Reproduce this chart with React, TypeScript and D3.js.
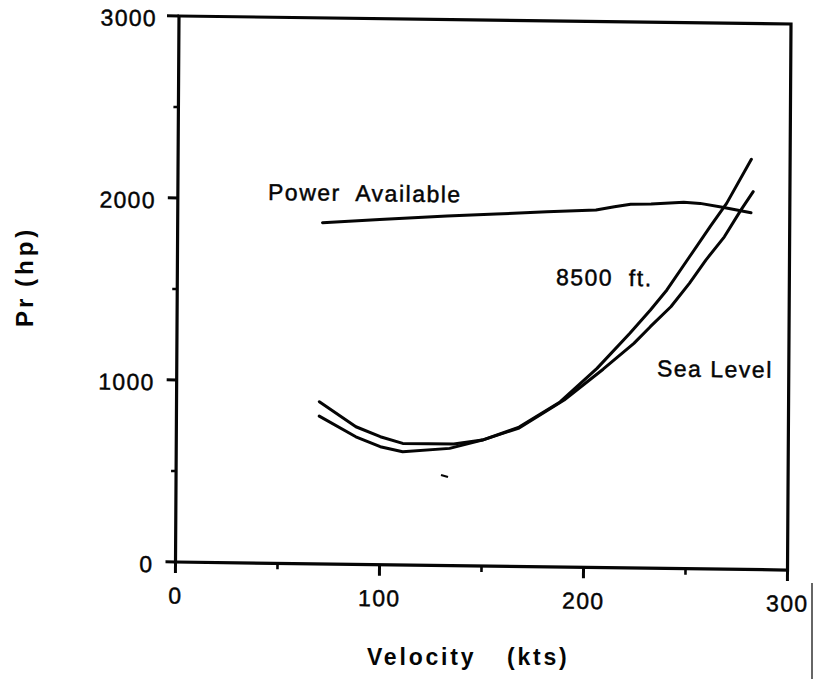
import React from "react";
import * as d3 from "d3";

// ---- Data ----
const velocityTicks = [0, 100, 200, 300];
const velocityMinorTicks = [50, 150, 250];
const powerTicks = [0, 1000, 2000, 3000];
const powerMinorTicks = [500, 1500, 2500];

// Power Available (kts, hp)
const availVelocity = [71, 99, 132, 156, 181, 205, 214, 222, 232, 248, 256, 267, 281];
const availPower = [1875, 1897, 1920, 1935, 1951, 1964, 1983, 1998, 2001, 2013, 2008, 1988, 1960];

// Power required, 8500 ft
const altVelocity = [70, 88, 100, 111, 136, 150, 168, 188, 206, 222, 232, 240, 251, 261, 269, 281];
const altPower = [891, 756, 703, 668, 668, 692, 766, 907, 1094, 1289, 1419, 1530, 1714, 1881, 2010, 2254];

// Power required, Sea Level
const slVelocity = [70, 88, 100, 111, 134, 150, 168, 190, 209, 224, 232, 242, 251, 259, 268, 276, 282];
const slPower = [812, 701, 648, 622, 644, 692, 761, 918, 1090, 1234, 1327, 1438, 1568, 1697, 1826, 1974, 2076];

// Annotation labels (anchored in data units)
const labels = [
  { text: "Power  Available", v: 44.2, p: 1996 },
  { text: "8500  ft.", v: 185.6, p: 1549 },
  { text: "Sea Level", v: 235.4, p: 1055 },
];

const W = 612;
const H = 546;
const FONT = "'Liberation Sans', Arial, Helvetica, sans-serif";
const INK = "#050505";

export default function App() {
  const x = d3.scaleLinear().domain([0, 300]).range([0, W]);
  const y = d3.scaleLinear().domain([0, 3000]).range([H, 0]);
  const line = d3
    .line<[number, number]>()
    .x((d) => x(d[0]))
    .y((d) => y(d[1]))
    .curve(d3.curveLinear);

  const zip = (a: number[], b: number[]) => a.map((v, i) => [v, b[i]] as [number, number]);
  const series = [zip(availVelocity, availPower), zip(altVelocity, altPower), zip(slVelocity, slPower)];

  const textStyle = { stroke: INK, strokeWidth: 0.45 } as React.CSSProperties;

  return (
    <svg
      width={815}
      height={679}
      style={{ position: "absolute", left: 0, top: 0, background: "#fff" }}
    >
      <rect x={0} y={0} width={815} height={679} fill="#fff" />
      {/* slight scan skew */}
      <g transform="matrix(1, 0.0131, -0.0064, 1, 179, 16)">
        {/* frame */}
        <rect x={0} y={0} width={W} height={H} fill="none" stroke={INK} strokeWidth={3.2} />
        {/* y ticks */}
        {powerTicks.map((t) => (
          <line key={"yt" + t} x1={t === 3000 ? -12 : -10} x2={0} y1={y(t)} y2={y(t)} stroke={INK} strokeWidth={3} />
        ))}
        {powerMinorTicks.map((t) => (
          <line key={"ym" + t} x1={-5} x2={0} y1={y(t)} y2={y(t)} stroke={INK} strokeWidth={2.6} />
        ))}
        {powerTicks.map((t) => (
          <text
            key={"yl" + t}
            x={-22}
            y={y(t) + 10.5}
            textAnchor="end"
            fontFamily={FONT}
            fontSize={23}
            letterSpacing={1.3}
            fill={INK}
            style={textStyle}
          >
            {t}
          </text>
        ))}
        {/* x ticks */}
        {velocityTicks.map((t) => (
          <line key={"xt" + t} x1={x(t)} x2={x(t)} y1={H} y2={H + 11} stroke={INK} strokeWidth={3} />
        ))}
        {velocityMinorTicks.map((t) => (
          <line key={"xm" + t} x1={x(t)} x2={x(t)} y1={H} y2={H + 6} stroke={INK} strokeWidth={2.6} />
        ))}
        {velocityTicks.map((t) => (
          <text
            key={"xl" + t}
            x={x(t)}
            y={H + 41.5}
            textAnchor="middle"
            fontFamily={FONT}
            fontSize={23}
            letterSpacing={1.3}
            fill={INK}
            style={textStyle}
          >
            {t}
          </text>
        ))}
        {/* curves */}
        {series.map((s, i) => (
          <path key={"s" + i} d={line(s) || ""} fill="none" stroke={INK} strokeWidth={3} strokeLinejoin="round" strokeLinecap="round" />
        ))}
        {/* annotations */}
        {labels.map((l) => (
          <text
            key={l.text}
            x={x(l.v)}
            y={y(l.p)}
            fontFamily={FONT}
            fontSize={23}
            letterSpacing={1.5}
            fill={INK}
            style={{ ...textStyle, whiteSpace: "pre" }}
          >
            {l.text}
          </text>
        ))}
      </g>
      {/* axis titles */}
      <text x={367} y={665} fontFamily={FONT} fontSize={23} fontWeight="bold" letterSpacing={2.8} fill={INK}>
        Velocity
      </text>
      <text x={507} y={665} fontFamily={FONT} fontSize={23} fontWeight="bold" letterSpacing={2.8} fill={INK}>
        (kts)
      </text>
      <text transform="translate(33,327) rotate(-90)" fontFamily={FONT} fontSize={24} fontWeight="bold" letterSpacing={3} fill={INK}>
        Pr
      </text>
      <text transform="translate(33,287) rotate(-90)" fontFamily={FONT} fontSize={24} fontWeight="bold" letterSpacing={4} fill={INK}>
        (hp)
      </text>
      {/* scan artifacts */}
      <line x1={812} x2={812} y1={583} y2={679} stroke="#333" strokeWidth={1.5} />
      <line x1={441} x2={448} y1={475} y2={477} stroke={INK} strokeWidth={2.2} />
    </svg>
  );
}
